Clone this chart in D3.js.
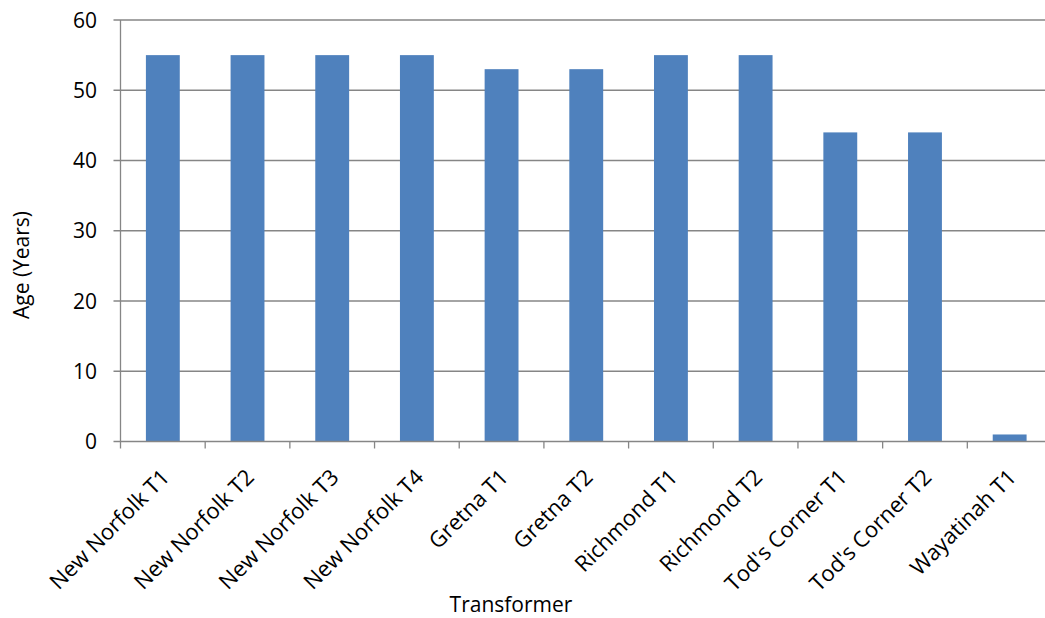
<!DOCTYPE html>
<html>
<head>
<meta charset="utf-8">
<script src="https://cdn.jsdelivr.net/npm/d3@7"></script>
<style>
  html, body { margin: 0; padding: 0; background: #fff; }
  svg { display: block; font-family: "Open Sans", sans-serif; }
</style>
</head>
<body>
<svg id="chart" width="1045" height="618"></svg>
<script>
// Transformer names and their ages in years
const categories = [
  "New Norfolk T1", "New Norfolk T2", "New Norfolk T3", "New Norfolk T4",
  "Gretna T1", "Gretna T2", "Richmond T1", "Richmond T2",
  "Tod's Corner T1", "Tod's Corner T2", "Wayatinah T1"
];
const ages = [55, 55, 55, 55, 53, 53, 55, 55, 44, 44, 1];
const yTicks = [0, 10, 20, 30, 40, 50, 60];

const svg = d3.select("#chart");
const plotLeft = 120.5, plotRight = 1052, plotTop = 20, plotBottom = 441.5;

const x = d3.scaleBand().domain(categories).range([plotLeft, plotRight]).padding(0);
const y = d3.scaleLinear().domain([0, 60]).range([plotBottom, plotTop]);

const gridColor = "#868686";

// horizontal gridlines with short outward ticks
svg.append("g").selectAll("line").data(yTicks.filter(d => d > 0)).join("line")
  .attr("x1", plotLeft - 7).attr("x2", plotRight)
  .attr("y1", d => y(d)).attr("y2", d => y(d))
  .attr("stroke", gridColor).attr("stroke-width", 1.3);

// bars: 40% of each band, centred
const barW = x.bandwidth() * 0.4;
svg.append("g").selectAll("rect").data(categories).join("rect")
  .attr("x", d => x(d) + (x.bandwidth() - barW) / 2)
  .attr("width", barW)
  .attr("y", (d, i) => y(ages[i]))
  .attr("height", (d, i) => y(0) - y(ages[i]))
  .attr("fill", "#4F81BD");

// y axis line
svg.append("line")
  .attr("x1", plotLeft).attr("x2", plotLeft).attr("y1", plotTop).attr("y2", plotBottom)
  .attr("stroke", gridColor).attr("stroke-width", 1.3);

// x axis baseline and ticks at band boundaries
svg.append("line")
  .attr("x1", plotLeft - 7).attr("x2", plotRight).attr("y1", plotBottom).attr("y2", plotBottom)
  .attr("stroke", gridColor).attr("stroke-width", 1.3);
const boundaries = categories.map(d => x(d)).concat([plotRight]);
svg.append("g").selectAll("line").data(boundaries).join("line")
  .attr("x1", d => d).attr("x2", d => d)
  .attr("y1", plotBottom).attr("y2", plotBottom + 7)
  .attr("stroke", gridColor).attr("stroke-width", 1.3);

// y tick labels
svg.append("g").selectAll("text").data(yTicks).join("text")
  .attr("x", 97).attr("y", d => y(d))
  .attr("dy", "0.36em")
  .attr("text-anchor", "end")
  .attr("font-size", 21)
  .attr("fill", "#000")
  .text(d => d);

// rotated category labels
svg.append("g").selectAll("text").data(categories).join("text")
  .attr("transform", d => `translate(${x(d) + x.bandwidth() / 2 + 8},${plotBottom + 37}) rotate(-45)`)
  .attr("text-anchor", "end")
  .attr("font-size", 22)
  .attr("fill", "#000")
  .text(d => d);

// axis titles
svg.append("text")
  .attr("transform", "translate(29,265) rotate(-90)")
  .attr("text-anchor", "middle")
  .attr("font-size", 21)
  .text("Age (Years)");

svg.append("text")
  .attr("x", 511).attr("y", 612)
  .attr("text-anchor", "middle")
  .attr("font-size", 21)
  .text("Transformer");
</script>
</body>
</html>
